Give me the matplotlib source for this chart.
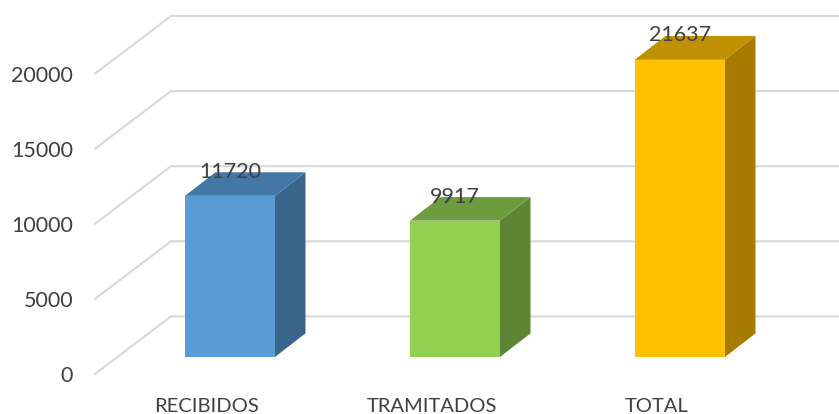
import matplotlib
matplotlib.use("Agg")
import matplotlib.pyplot as plt
from matplotlib.patches import Polygon

plt.rcParams['font.family'] = ['Lato', 'DejaVu Sans']

categories = ["RECIBIDOS", "TRAMITADOS", "TOTAL"]
values = [11720, 9917, 21637]
axis_ticks = [0, 5000, 10000, 15000, 20000]
front_colors = ["#5B9BD5", "#92D050", "#FFC000"]
side_colors = ["#3A658A", "#5E8534", "#A67C00"]
top_colors = ["#4377A5", "#6D9C3E", "#BF9000"]

W, H = 839, 414
fig = plt.figure(figsize=(W / 100, (H + 0.5) / 100), dpi=100, facecolor="white")
L = 95 / W
rect = [L, 0, 1 - L, 1]


def make_axes(y0_px, px_per_unit, cat0_px, label):
    ax = fig.add_axes(rect, label=label)
    ax.patch.set_alpha(0)
    ax.set_ylim((y0_px - H) / px_per_unit, y0_px / px_per_unit)
    ax.set_xlim((95 - cat0_px) / 225, (W - cat0_px) / 225)
    for s in ax.spines.values():
        s.set_visible(False)
    return ax


# grid / axis layer
grid_scale = 0.015
ax_g = make_axes(374, grid_scale, 207, "grid")
wall_dx = 76 / 225
wall_dy = 57.5 / grid_scale
xl = ax_g.get_xlim()
for v in axis_ticks:
    ax_g.plot([xl[0], xl[0] + wall_dx, xl[1]], [v, v + wall_dy, v + wall_dy],
              color="#D9D9D9", lw=1.5, solid_joinstyle="miter", clip_on=False, zorder=1)
ax_g.set_yticks(axis_ticks)
ax_g.set_yticklabels([str(v) for v in axis_ticks], fontsize=15.5, color="#404040")
ax_g.tick_params(axis="y", length=0, pad=15.8)
ax_g.set_xticks(range(len(categories)))
ax_g.set_xticklabels(categories, fontsize=14.5, color="#404040")
ax_g.tick_params(axis="x", length=0, pad=-5.8)
for lab in ax_g.get_xticklabels():
    lab.set_va("center")

# bar layer
bar_scale = 0.01373
ax_b = make_axes(357, bar_scale, 230, "bars")
ax_b.set_xticks([])
ax_b.set_yticks([])
bw = 90 / 225
dx = 30.5 / 225
dy = 23.5 / bar_scale
for i, (v, f, s, t) in enumerate(zip(values, front_colors, side_colors, top_colors)):
    ax_b.bar(i, v, width=bw, color=f, zorder=3)
    r = i + bw / 2
    l = i - bw / 2
    ax_b.add_patch(Polygon([(r, 0), (r + dx, dy), (r + dx, v + dy), (r, v)],
                           closed=True, facecolor=s, edgecolor="none", zorder=3))
    ax_b.add_patch(Polygon([(l, v), (l + dx, v + dy), (r + dx, v + dy), (r, v)],
                           closed=True, facecolor=t, edgecolor="none", zorder=3))
    ax_b.annotate(str(v), (i, v), xytext=(0, 24.5 * 72 / 100), textcoords="offset points",
                  ha="center", va="center", fontsize=15.5, color="#404040", zorder=5)

fig.savefig("out.png", dpi=100)
